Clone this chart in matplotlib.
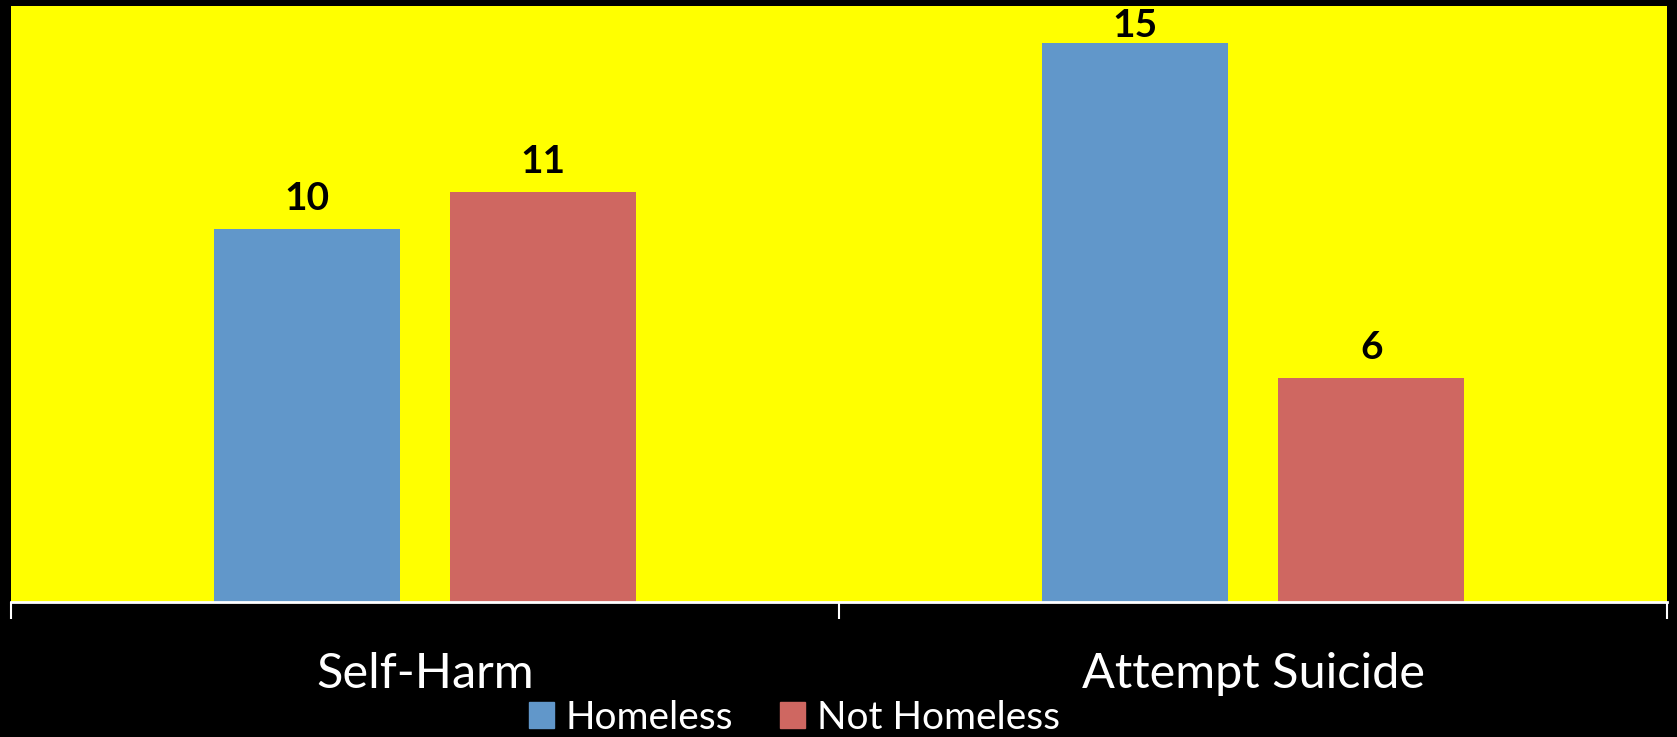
import numpy as np
import matplotlib
matplotlib.use("Agg")
import matplotlib.pyplot as plt
from matplotlib.patches import Patch

# data
categories = ["Self-Harm", "Attempt Suicide"]
series_names = ["Homeless", "Not Homeless"]
homeless = [10, 15]
not_homeless = [11, 6]

blue = "#6197CA"
red = "#CF6761"

plt.rcParams['font.family'] = ['Lato', 'DejaVu Sans']

fig = plt.figure(figsize=(16.77, 7.37), dpi=100, facecolor="black")
ax = fig.add_axes([0.0066, 0.1832, 0.9875, 0.8087])
ax.set_facecolor("#FFFF00")

x = np.arange(len(categories))
w = 0.2245
off = 0.1426
b1 = ax.bar(x - off, homeless, w, color=blue, label=series_names[0])
b2 = ax.bar(x + off, not_homeless, w, color=red, label=series_names[1])

ymax = 16
for bars in (b1, b2):
    for rect in bars:
        h = rect.get_height()
        # keep the label inside the plot area when the bar is tall
        y = h + 0.35 if h + 0.35 < ymax - 1.0 else h
        ax.text(rect.get_x() + rect.get_width() / 2, y, str(int(h)),
                ha="center", va="bottom", fontsize=28, fontweight="bold",
                color="black")

ax.set_xlim(-0.5, len(categories) - 0.5)
ax.set_ylim(0, ymax)
ax.set_yticks([])

# ticks at category boundaries, labels in between
ax.set_xticks(np.arange(len(categories) + 1) - 0.5)
ax.set_xticklabels([])
ax.set_xticks(x, minor=True)
ax.set_xticklabels(categories, minor=True)
ax.tick_params(axis="x", which="major", colors="white", length=12, width=1.5, direction="out")
ax.tick_params(axis="x", which="minor", length=0, pad=36, labelsize=35, labelcolor="white")

for side in ["left", "right", "top"]:
    ax.spines[side].set_visible(False)
ax.spines["bottom"].set_color("white")
ax.spines["bottom"].set_linewidth(2)

handles = [Patch(color=blue), Patch(color=red)]
fig.legend(handles, series_names, loc="center", bbox_to_anchor=(0.4735, 0.026),
           ncol=2, frameon=False, fontsize=28, labelcolor="white",
           handlelength=0.65, handleheight=0.65, handletextpad=0.3,
           columnspacing=1.2, borderpad=0, borderaxespad=0)

fig.savefig("out.png", dpi=100, facecolor="black")
